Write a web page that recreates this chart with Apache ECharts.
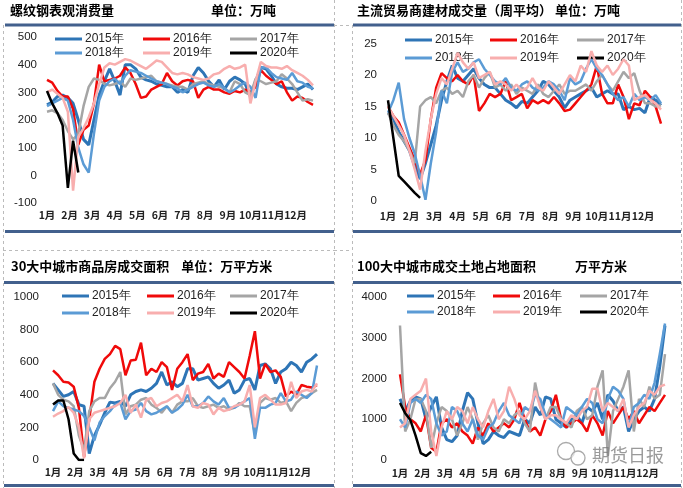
<!DOCTYPE html>
<html><head><meta charset="utf-8">
<script src="https://cdn.jsdelivr.net/npm/echarts@6/dist/echarts.min.js"></script>
<style>html,body{margin:0;padding:0;background:#fff}#c{width:683px;height:488px}</style>
</head><body><div id="c"></div>
<script>
// ---- tick labels / categories ----
const monthLabels = ['1月','2月','3月','4月','5月','6月','7月','8月','9月','10月','11月','12月'];
const yearNames = ['2015年','2016年','2017年','2018年','2019年','2020年'];

// ---- Panel 1: 螺纹钢表观消费量 (万吨), weekly ----
const p1_2015 = [255,265,285,290,280,260,200,130,110,200,290,340,385,340,290,400,400,385,355,345,340,330,325,320,320,300,310,300,360,390,370,340,320,345,310,340,355,345,330,285,340,390,385,360,330,320,315,315,310,320,330,310];
const p1_2016 = [345,335,305,285,285,240,110,165,180,260,400,340,345,350,360,390,370,330,280,285,310,320,330,370,340,325,340,345,340,280,310,320,310,310,300,295,305,300,310,300,320,380,360,345,330,340,300,270,285,280,265,255];
const p1_2017 = [230,235,225,200,160,130,150,250,320,350,345,330,325,330,340,320,350,345,350,355,360,340,335,330,325,320,320,310,330,335,340,330,325,320,315,300,340,330,300,290,350,340,330,335,340,365,350,330,300,270,275,270];
const p1_2018 = [250,260,270,280,270,200,100,40,10,150,270,320,340,350,330,360,380,375,370,360,350,340,335,330,320,315,300,310,320,330,335,325,320,330,315,300,310,325,335,320,280,390,390,370,355,350,345,370,340,335,320,315];
const p1_2019 = [300,310,295,280,230,-55,140,170,210,260,330,390,405,400,410,420,415,405,395,385,400,415,410,390,370,365,370,365,355,350,345,350,365,370,385,395,385,390,400,260,340,410,395,390,390,385,395,380,370,360,345,325];
const p1_2020 = [305,260,225,180,-45,125,10];

// ---- Panel 2: 主流贸易商建材成交量（周平均） (万吨) ----
const p2_2015 = [14,13,11,9.5,8,5.5,3.5,6,9,12,16,19,21.5,19.5,19,20,21,19.5,18.5,18,18,17,16,15.5,14.8,15.8,15.5,16.5,17.5,19,18.5,17.5,16.5,14.8,16,16.5,17,17.5,18,16.5,17,17.5,17,17,14.5,15,14.5,14.7,14,16.5,16,15.2];
const p2_2016 = [15,13.5,12.5,10.5,8.5,6.5,4.2,6.5,13,18,20.3,19.5,19,20,19,18.5,20,14.3,15.5,17,16.5,17,19,16,16.5,17,14.7,16,15.5,16,15.5,16.5,15.5,14.3,14.5,15.5,16.5,17.5,18.5,21.5,17,15.5,15.5,18.5,16.5,13,15.5,15.2,17.5,16.5,15,12.3];
const p2_2017 = [14,12,10.5,9.5,8,6,15,16,16.5,15.5,17.5,18,17,17.5,16.5,19,20,18,19.5,20.5,18,18.5,17.5,18.5,17,18,17.5,17,18.5,17,16.5,17.5,18.5,17,17.5,17.5,18,18.5,17.5,19,20,18.5,17.5,19,20.5,19.5,20.3,17.5,15.5,15.5,15,15.2];
const p2_2018 = [14,16,18.8,13,10,7.5,4,0.2,6,11,17.5,15.5,20.5,22,20.5,21,22,22.5,21,20,19,18.5,19.5,18,17.5,18.5,19,18,17.5,18,19,18.5,17.5,16,19.5,18.5,19,21,22.5,21,20,18.5,17,16,16.5,15,17,16,16.5,16,16.8,15.5];
const p2_2019 = [15,13.5,12,10.5,8,5,1.8,8,13,17,19.5,18.5,21,23.5,22,21,22,19.5,20,20.5,18.5,19,18.5,17.5,18.5,17.5,18,19.5,18,17.5,19,18,17,18.5,20,19,21.5,20.5,23.8,21.5,20.5,21.5,20,21,22.5,21.5,16,16.5,16.8,16,15.5,14.5];
const p2_2020 = [16,10,4,3.1,2.2,1.3,0.5];

// ---- Panel 3: 30大中城市商品房成交面积 (万平方米) ----
const p3_2015 = [470,430,390,400,420,340,330,40,150,215,290,355,350,360,330,400,420,430,420,440,470,540,460,480,450,470,560,560,490,500,510,470,440,460,490,410,430,490,500,430,580,590,560,470,540,560,600,580,540,600,620,650];
const p3_2016 = [550,520,480,475,450,320,20,250,480,560,620,650,700,680,520,610,615,720,520,560,540,600,570,430,560,600,650,490,530,540,590,500,530,510,600,570,540,500,640,790,500,590,540,550,510,390,420,400,460,450,445,460];
const p3_2017 = [470,400,370,360,330,150,60,300,360,380,380,440,480,540,280,330,340,370,380,340,320,290,330,290,340,360,360,380,330,320,330,340,320,330,310,320,350,330,330,160,350,380,370,380,350,360,300,350,380,390,410,430];
const p3_2018 = [300,360,330,320,310,300,270,200,120,230,270,300,340,350,250,300,310,350,300,280,290,310,330,290,310,340,400,330,330,350,390,360,340,380,320,320,340,360,380,130,320,320,340,350,410,360,370,420,400,380,410,580];
const p3_2019 = [265,285,300,325,290,200,10,250,290,300,310,320,330,350,400,290,340,260,370,380,330,350,360,380,400,360,460,330,320,350,340,280,320,300,310,330,340,360,460,200,380,400,370,340,340,350,480,380,420,430,420,470];
const p3_2020 = [340,365,365,250,40,0,0];

// ---- Panel 4: 100大中城市成交土地占地面积 (万平方米) ----
const p4_2015 = [1500,1200,1450,1550,1500,1000,1300,1550,800,500,450,600,1200,1650,1500,900,400,500,700,600,550,700,650,600,1000,900,1300,1100,1550,1500,1000,900,800,1000,1100,900,1300,1200,1400,1000,1600,1450,1200,1300,700,1000,1200,1300,1200,1500,2300,3300];
const p4_2016 = [2100,1300,1000,900,700,1100,300,200,900,1000,800,900,700,600,400,800,600,900,700,800,900,800,1000,1400,1000,700,800,600,1000,1200,1600,1000,800,900,1000,900,700,1100,900,600,1200,900,1100,1300,1000,1200,900,1100,1300,1200,1400,1600];
const p4_2017 = [3300,700,1000,1500,1500,1200,300,900,1300,1200,1000,600,900,1300,1000,500,900,1100,800,700,1000,900,1100,1200,900,700,1900,1300,1000,1300,1300,1000,900,800,1200,1300,1000,1100,1800,2200,100,1200,1500,1800,2200,700,1500,1300,1800,1500,1600,2600];
const p4_2018 = [1000,800,1400,1500,1400,1600,1500,900,600,700,1300,1200,900,700,1000,600,500,800,900,1200,1400,1100,1000,900,1300,1200,1600,1500,1100,1000,900,800,1300,1200,1100,1300,1500,1400,1000,900,1500,1800,1700,1500,800,1300,1400,1600,1500,1900,2600,3350];
const p4_2019 = [800,900,1500,1600,1700,2000,700,100,800,1200,1000,1300,1200,900,1300,1000,800,1200,1500,1000,1200,1800,1500,1100,1000,1200,1700,1300,1000,1100,1100,1000,900,1100,1000,1200,1300,1750,1750,1200,1400,1300,1200,1500,800,1100,1300,1400,1700,1600,1800,1850];
const p4_2020 = [1400,1150,980,600,170,100,200];

const panelSeries = [
  [p1_2015,p1_2016,p1_2017,p1_2018,p1_2019,p1_2020],
  [p2_2015,p2_2016,p2_2017,p2_2018,p2_2019,p2_2020],
  [p3_2015,p3_2016,p3_2017,p3_2018,p3_2019,p3_2020],
  [p4_2015,p4_2016,p4_2017,p4_2018,p4_2019,p4_2020]
];

// ---- layout / style ----
const colors = ['#2E75B6','#F00A0A','#A5A5A5','#5B9BD5','#F8AEAE','#000000'];
const widths = [3,2.5,2.5,2.5,2.5,2.5];
const layout = [
  {grid:{left:47,top:37,width:266,height:166}, y:[-100,500,100], ymargin:10, xmargin:7, leg:{x:[55,143,230], y:[40,54]}},
  {grid:{left:388,top:43.5,width:273,height:157.5}, y:[0,25,5], ymargin:11, xmargin:10, leg:{x:[405,490,577], y:[41,59]}},
  {grid:{left:53,top:297,width:264,height:163}, y:[0,1000,200], ymargin:14, xmargin:7, leg:{x:[62,147,230], y:[297,314]}},
  {grid:{left:400,top:297,width:265,height:163}, y:[0,4000,1000], ymargin:13, xmargin:8, leg:{x:[407,493,580], y:[297,313]}}
];
const step = 52/12;
const weekMax = 51;

const grids=[], xAxes=[], yAxes=[], series=[], legends=[];
layout.forEach((L, p) => {
  grids.push(L.grid);
  xAxes.push({type:'value', gridIndex:p, min:0, max:weekMax, interval:step,
    axisLine:{show:false}, axisTick:{show:false}, splitLine:{show:false},
    axisLabel:{margin:L.xmargin, fontSize:10.5, fontWeight:'bold', color:'#222', fontFamily:'Noto Sans CJK SC',
      showMaxLabel:false, hideOverlap:false,
      formatter:v=>{const i=Math.round(v/step); return (Math.abs(v-i*step)<0.01 && monthLabels[i]) ? monthLabels[i] : '';}}});
  yAxes.push({type:'value', gridIndex:p, min:L.y[0], max:L.y[1], interval:L.y[2],
    axisLine:{show:false}, axisTick:{show:false}, splitLine:{show:false},
    axisLabel:{margin:L.ymargin, fontSize:11.5, color:'#222', fontFamily:'Liberation Sans', formatter:v=>String(v)}});
  panelSeries[p].forEach((arr, k) => {
    series.push({type:'line', name:yearNames[k], xAxisIndex:p, yAxisIndex:p,
      data:arr.map((v,i)=>[i,v]), showSymbol:false, symbol:'none', animation:false,
      itemStyle:{color:colors[k]}, lineStyle:{color:colors[k], width:widths[k]}, z:2+k});
  });
  yearNames.forEach((nm, k) => {
    legends.push({data:[nm], left:L.leg.x[k%3], top:L.leg.y[Math.floor(k/3)]-7, padding:0,
      icon:'rect', itemWidth:27, itemHeight:3, itemGap:0, selectedMode:false,
      textStyle:{fontSize:12, color:'#222', fontFamily:'Liberation Sans', padding:[0,0,0,-2]}});
  });
});

const tStyle = {fontSize:13, fontWeight:'bold', color:'#000', fontFamily:'Noto Sans CJK SC'};
const titles = [
  {text:'螺纹钢表观消费量', left:10, top:4, textStyle:tStyle},
  {text:'单位：万吨', left:211, top:4, textStyle:tStyle},
  {text:'主流贸易商建材成交量（周平均） 单位：万吨', left:357, top:4, textStyle:tStyle},
  {text:'30大中城市商品房成交面积    单位：万平方米', left:11, top:260, textStyle:tStyle},
  {text:'100大中城市成交土地占地面积', left:357, top:260, textStyle:tStyle},
  {text:'万平方米', left:575, top:260, textStyle:tStyle}
].map(t=>Object.assign({padding:0}, t));

const blue = '#42608D';
function bar(x1,x2,y){return {type:'line', shape:{x1,y1:y,x2,y2:y}, style:{stroke:blue, lineWidth:3}, silent:true};}
function dash(x1,y1,x2,y2){return {type:'line', shape:{x1,y1,x2,y2}, style:{stroke:'#bbbbbb', lineWidth:1, lineDash:[3,3]}, silent:true};}
const graphics = [
  bar(5,334,25), bar(5,334,231.5), bar(353,681,25), bar(353,681,231.5),
  bar(4,334,282.5), bar(4,334,485.5), bar(353,681,282.5), bar(353,681,485.5),
  dash(3.5,25,3.5,488), dash(334.5,0,334.5,488), dash(352.5,25,352.5,488), dash(681.5,0,681.5,488),
  dash(334,25.5,352,25.5), dash(3,250.5,334,250.5), dash(334,250.5,352,250.5),
  {type:'circle', shape:{cx:566, cy:451, r:8.5}, style:{fill:'rgba(255,255,255,0.6)', stroke:'#aaa', lineWidth:1.3}, z:50},
  {type:'circle', shape:{cx:578, cy:458, r:7}, style:{fill:'rgba(255,255,255,0.6)', stroke:'#aaa', lineWidth:1.3}, z:51},
  {type:'text', left:592, top:446, style:{text:'期货日报', fontSize:18, fill:'rgba(120,120,120,0.75)', fontFamily:'Noto Sans CJK SC'}, z:52}
];

const chart = echarts.init(document.getElementById('c'), null, {renderer:'canvas'});
chart.setOption({backgroundColor:'#fff', animation:false, title:titles, legend:legends,
  grid:grids, xAxis:xAxes, yAxis:yAxes, series:series, graphic:graphics});
</script></body></html>
